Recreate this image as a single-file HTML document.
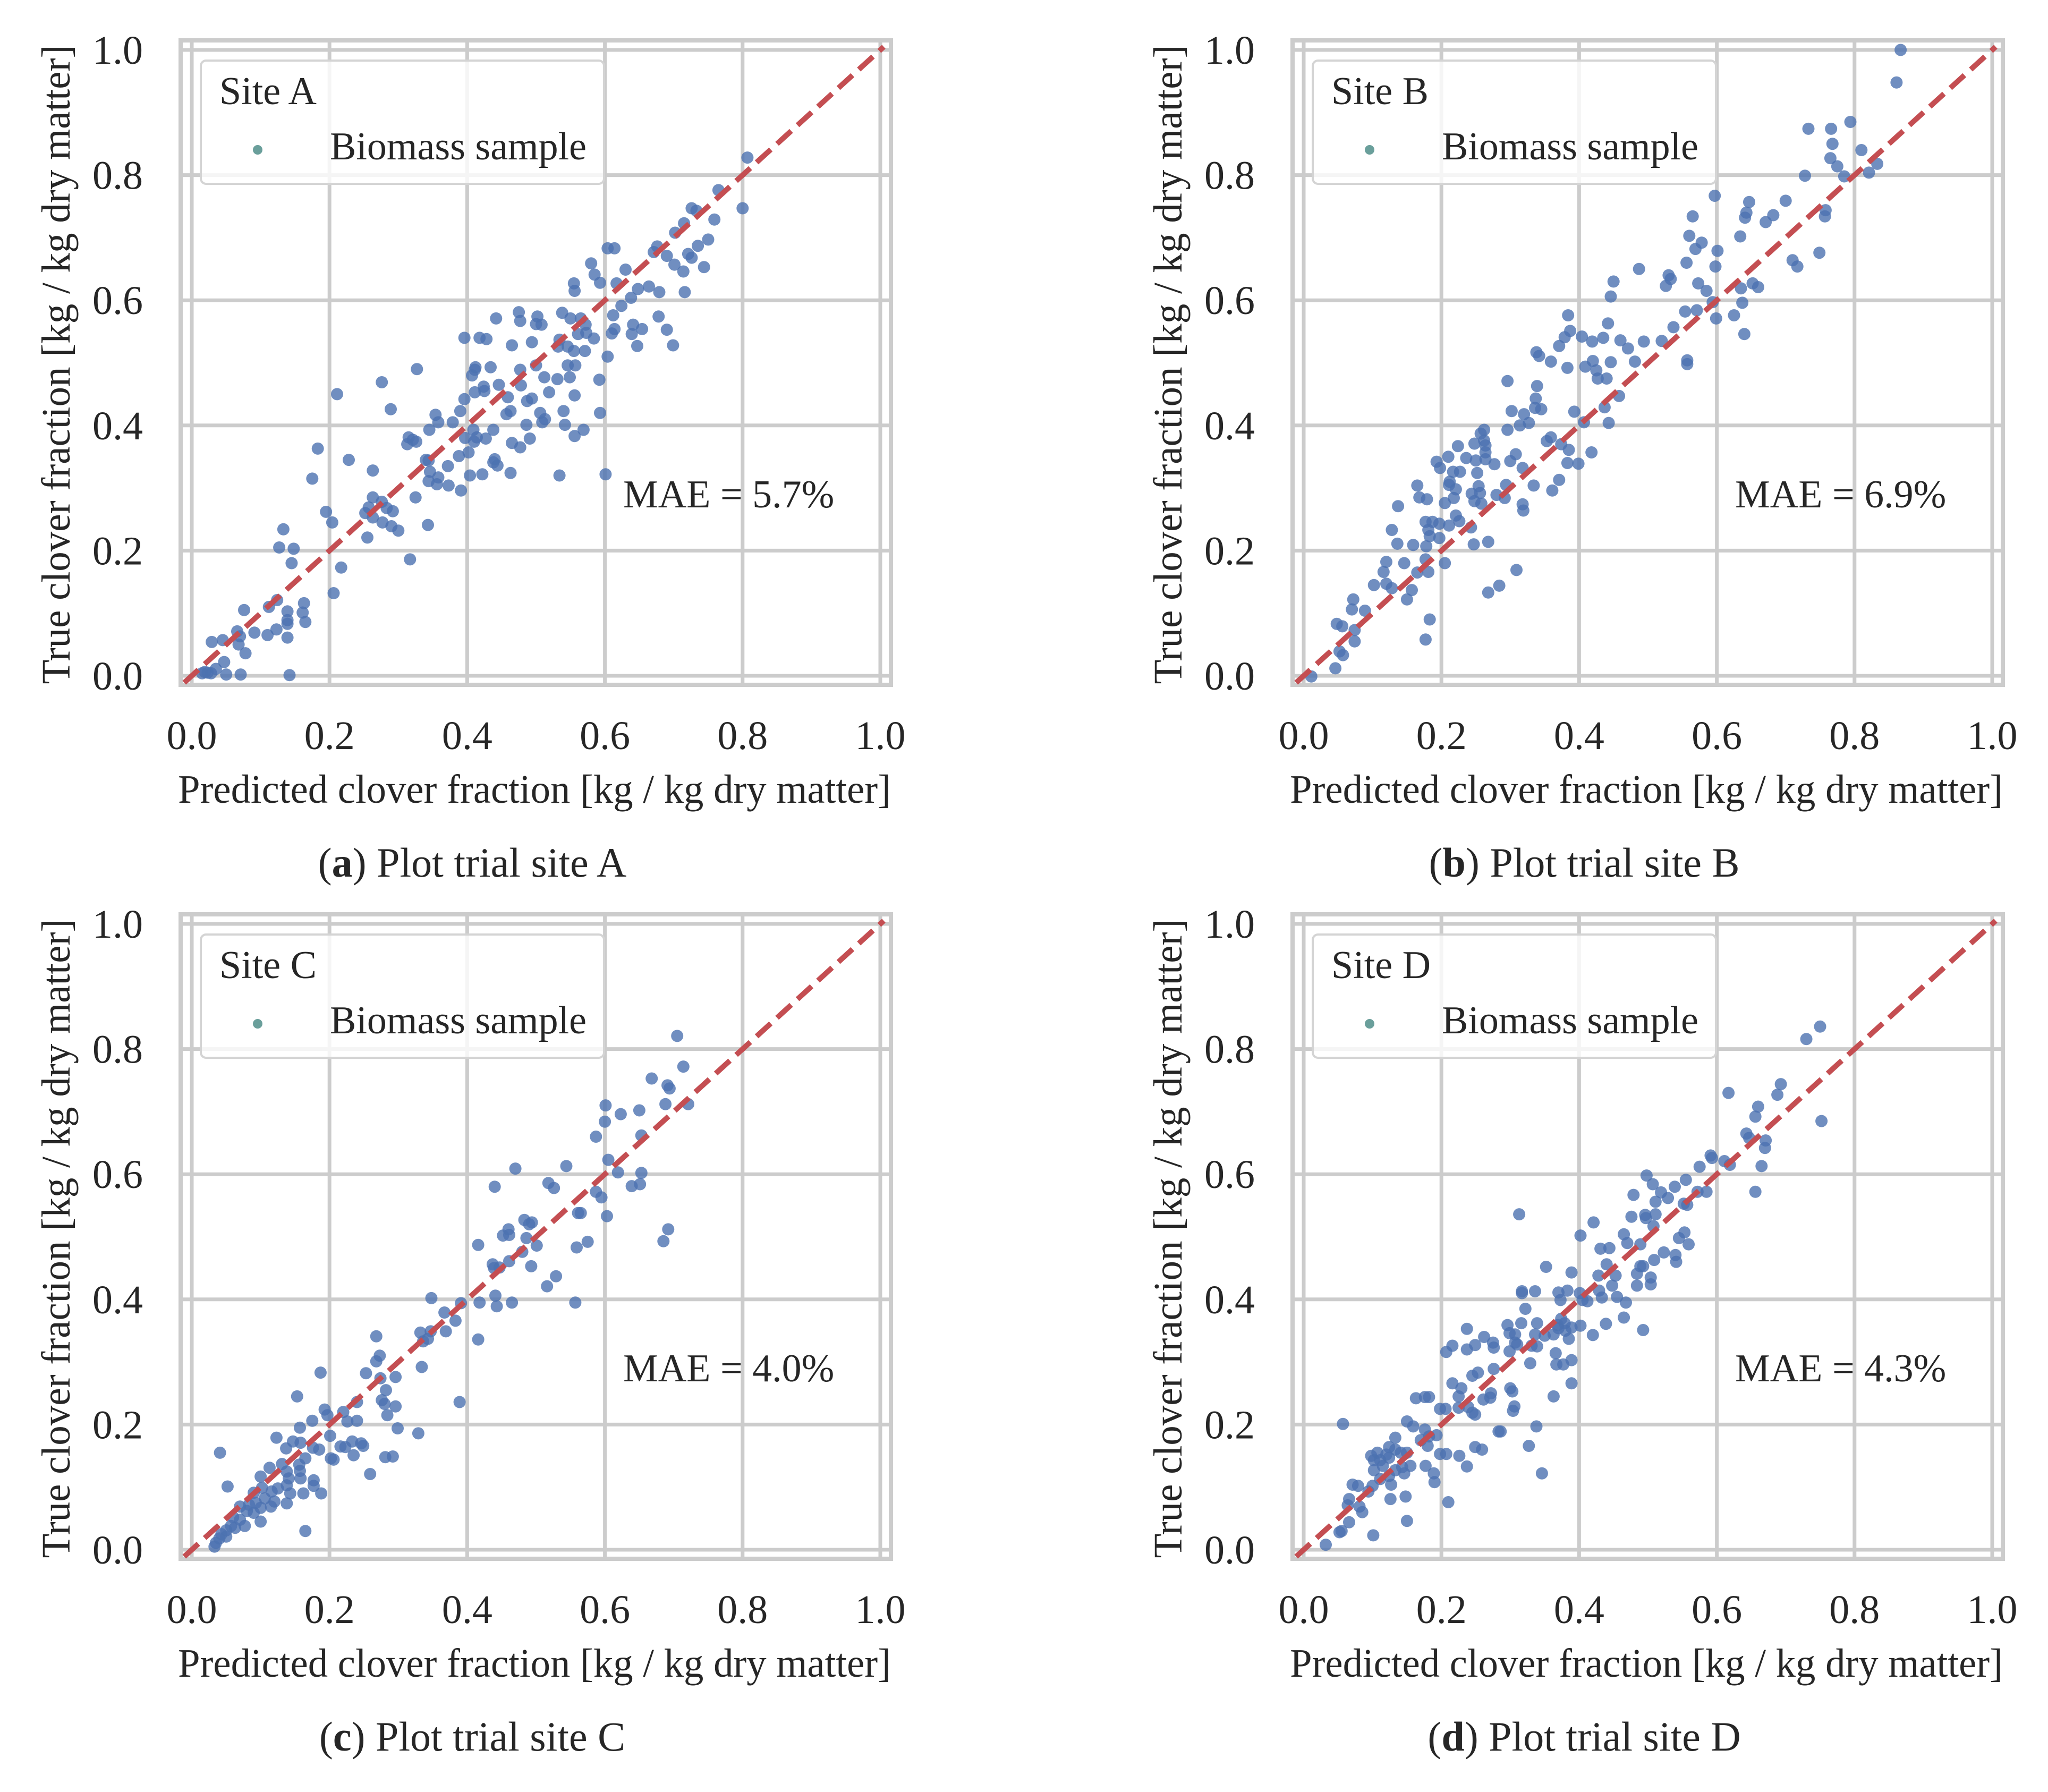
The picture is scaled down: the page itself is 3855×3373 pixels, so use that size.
<!DOCTYPE html>
<html><head><meta charset="utf-8">
<style>
html,body{margin:0;padding:0;background:#fff;}
svg{display:block;}
text{font-family:"Liberation Serif","DejaVu Serif",serif;fill:#262626;}
</style></head>
<body>
<svg id="fig" xmlns="http://www.w3.org/2000/svg" width="3855" height="3373" viewBox="0 0 3855 3373"></svg>
<script>
const tickValues = [0, 0.2, 0.4, 0.6, 0.8, 1.0];
const tickLabels = ["0.0", "0.2", "0.4", "0.6", "0.8", "1.0"];
const siteNames = ["A", "B", "C", "D"];
const maeLabels = ["5.7%", "6.9%", "4.0%", "4.3%"];

const siteAPoints = [[0.807,0.828],[0.800,0.747],[0.765,0.776],[0.726,0.747],[0.733,0.743],[0.715,0.723],[0.759,0.729],[0.702,0.708],[0.750,0.697],[0.735,0.687],[0.744,0.653],[0.721,0.674],[0.726,0.668],[0.714,0.646],[0.716,0.613],[0.701,0.657],[0.690,0.671],[0.676,0.686],[0.671,0.677],[0.664,0.622],[0.679,0.613],[0.690,0.553],[0.699,0.528],[0.678,0.574],[0.604,0.683],[0.614,0.683],[0.580,0.659],[0.630,0.649],[0.648,0.618],[0.638,0.604],[0.641,0.561],[0.654,0.554],[0.647,0.527],[0.639,0.546],[0.617,0.627],[0.624,0.591],[0.612,0.576],[0.614,0.554],[0.610,0.547],[0.585,0.641],[0.593,0.628],[0.555,0.627],[0.556,0.615],[0.538,0.580],[0.550,0.571],[0.561,0.546],[0.565,0.571],[0.573,0.548],[0.584,0.539],[0.572,0.561],[0.546,0.526],[0.555,0.519],[0.571,0.519],[0.557,0.496],[0.534,0.537],[0.532,0.526],[0.502,0.574],[0.475,0.581],[0.477,0.567],[0.494,0.533],[0.508,0.561],[0.500,0.562],[0.465,0.528],[0.442,0.571],[0.396,0.540],[0.418,0.540],[0.428,0.538],[0.604,0.510],[0.592,0.473],[0.546,0.496],[0.531,0.474],[0.549,0.477],[0.512,0.477],[0.519,0.453],[0.556,0.448],[0.540,0.423],[0.500,0.496],[0.477,0.489],[0.412,0.493],[0.411,0.489],[0.434,0.493],[0.407,0.480],[0.446,0.465],[0.478,0.464],[0.424,0.462],[0.411,0.453],[0.425,0.455],[0.459,0.445],[0.487,0.439],[0.494,0.443],[0.506,0.420],[0.509,0.405],[0.486,0.401],[0.491,0.379],[0.513,0.410],[0.542,0.401],[0.569,0.393],[0.556,0.383],[0.593,0.420],[0.601,0.322],[0.534,0.320],[0.477,0.365],[0.465,0.372],[0.463,0.423],[0.457,0.418],[0.438,0.393],[0.427,0.379],[0.409,0.393],[0.410,0.374],[0.402,0.357],[0.414,0.381],[0.438,0.341],[0.440,0.346],[0.444,0.336],[0.463,0.324],[0.422,0.322],[0.404,0.320],[0.396,0.442],[0.390,0.423],[0.379,0.405],[0.397,0.380],[0.388,0.351],[0.391,0.296],[0.372,0.335],[0.373,0.304],[0.354,0.417],[0.358,0.405],[0.345,0.393],[0.344,0.344],[0.346,0.326],[0.358,0.317],[0.356,0.306],[0.344,0.311],[0.340,0.345],[0.315,0.381],[0.321,0.377],[0.326,0.374],[0.313,0.370],[0.327,0.490],[0.276,0.469],[0.289,0.426],[0.325,0.285],[0.317,0.186],[0.343,0.241],[0.263,0.328],[0.263,0.285],[0.257,0.269],[0.276,0.278],[0.283,0.268],[0.292,0.263],[0.252,0.260],[0.263,0.253],[0.277,0.245],[0.290,0.239],[0.300,0.232],[0.255,0.221],[0.228,0.345],[0.211,0.450],[0.183,0.363],[0.175,0.315],[0.195,0.262],[0.204,0.245],[0.217,0.173],[0.206,0.132],[0.133,0.234],[0.127,0.205],[0.148,0.203],[0.145,0.180],[0.124,0.121],[0.112,0.110],[0.139,0.103],[0.139,0.089],[0.139,0.083],[0.139,0.061],[0.161,0.101],[0.163,0.116],[0.165,0.086],[0.123,0.074],[0.110,0.065],[0.076,0.105],[0.066,0.071],[0.070,0.063],[0.091,0.069],[0.068,0.050],[0.078,0.036],[0.045,0.057],[0.029,0.054],[0.047,0.022],[0.035,0.011],[0.023,0.005],[0.015,0.004],[0.028,0.004],[0.050,0.002],[0.071,0.002],[0.142,0.001],[0.019,0.006]];

const siteBPoints = [[0.867,1.0],[0.861,0.948],[0.733,0.874],[0.766,0.874],[0.794,0.885],[0.768,0.850],[0.810,0.840],[0.765,0.827],[0.775,0.814],[0.833,0.818],[0.821,0.804],[0.728,0.799],[0.785,0.798],[0.597,0.767],[0.647,0.757],[0.700,0.759],[0.643,0.740],[0.641,0.732],[0.682,0.736],[0.671,0.725],[0.758,0.744],[0.757,0.734],[0.565,0.734],[0.560,0.703],[0.578,0.692],[0.569,0.682],[0.634,0.702],[0.601,0.679],[0.749,0.676],[0.710,0.664],[0.717,0.654],[0.556,0.660],[0.598,0.654],[0.487,0.650],[0.530,0.640],[0.533,0.634],[0.526,0.623],[0.450,0.630],[0.573,0.627],[0.585,0.615],[0.635,0.619],[0.652,0.627],[0.660,0.621],[0.446,0.606],[0.637,0.596],[0.594,0.597],[0.554,0.582],[0.571,0.584],[0.599,0.571],[0.625,0.576],[0.640,0.546],[0.384,0.576],[0.442,0.563],[0.387,0.551],[0.379,0.541],[0.404,0.542],[0.371,0.527],[0.419,0.534],[0.435,0.540],[0.460,0.536],[0.471,0.523],[0.494,0.534],[0.520,0.535],[0.537,0.557],[0.338,0.517],[0.342,0.511],[0.359,0.502],[0.383,0.492],[0.409,0.494],[0.420,0.503],[0.446,0.501],[0.481,0.502],[0.425,0.488],[0.427,0.475],[0.440,0.475],[0.557,0.504],[0.557,0.498],[0.296,0.471],[0.339,0.463],[0.337,0.443],[0.336,0.428],[0.345,0.426],[0.458,0.447],[0.302,0.423],[0.320,0.418],[0.393,0.422],[0.437,0.429],[0.443,0.404],[0.407,0.405],[0.314,0.400],[0.327,0.404],[0.296,0.393],[0.262,0.393],[0.257,0.387],[0.262,0.376],[0.248,0.371],[0.264,0.368],[0.224,0.367],[0.359,0.381],[0.353,0.375],[0.374,0.370],[0.264,0.357],[0.210,0.350],[0.236,0.348],[0.264,0.346],[0.250,0.344],[0.277,0.338],[0.308,0.354],[0.300,0.343],[0.385,0.361],[0.418,0.357],[0.383,0.340],[0.399,0.339],[0.193,0.342],[0.198,0.332],[0.217,0.326],[0.227,0.326],[0.252,0.324],[0.318,0.332],[0.212,0.310],[0.211,0.305],[0.221,0.298],[0.254,0.303],[0.165,0.304],[0.334,0.304],[0.371,0.313],[0.294,0.305],[0.244,0.291],[0.256,0.292],[0.248,0.279],[0.258,0.275],[0.280,0.289],[0.292,0.284],[0.318,0.274],[0.319,0.264],[0.361,0.296],[0.168,0.285],[0.179,0.282],[0.218,0.284],[0.205,0.276],[0.137,0.271],[0.221,0.256],[0.226,0.247],[0.177,0.246],[0.187,0.246],[0.197,0.243],[0.211,0.240],[0.181,0.233],[0.243,0.237],[0.128,0.233],[0.183,0.223],[0.197,0.220],[0.136,0.211],[0.159,0.209],[0.178,0.207],[0.247,0.210],[0.268,0.214],[0.120,0.182],[0.146,0.180],[0.177,0.186],[0.205,0.180],[0.116,0.166],[0.165,0.165],[0.181,0.166],[0.102,0.145],[0.120,0.147],[0.128,0.140],[0.157,0.137],[0.150,0.122],[0.309,0.169],[0.284,0.144],[0.268,0.133],[0.183,0.090],[0.177,0.058],[0.072,0.122],[0.070,0.106],[0.089,0.104],[0.048,0.083],[0.056,0.079],[0.074,0.073],[0.074,0.055],[0.052,0.039],[0.057,0.033],[0.046,0.012],[0.011,-0.001]];

const siteCPoints = [[0.705,0.821],[0.714,0.772],[0.668,0.753],[0.691,0.742],[0.694,0.737],[0.688,0.712],[0.721,0.712],[0.601,0.710],[0.623,0.696],[0.650,0.702],[0.600,0.684],[0.587,0.660],[0.653,0.662],[0.605,0.623],[0.544,0.613],[0.470,0.609],[0.619,0.603],[0.653,0.602],[0.440,0.580],[0.518,0.586],[0.526,0.578],[0.639,0.581],[0.651,0.584],[0.587,0.572],[0.595,0.563],[0.561,0.538],[0.565,0.538],[0.603,0.533],[0.483,0.527],[0.490,0.520],[0.494,0.523],[0.460,0.512],[0.452,0.502],[0.461,0.503],[0.486,0.498],[0.692,0.512],[0.685,0.493],[0.501,0.486],[0.559,0.483],[0.575,0.492],[0.416,0.487],[0.480,0.476],[0.461,0.461],[0.437,0.456],[0.439,0.450],[0.447,0.451],[0.493,0.453],[0.529,0.437],[0.516,0.421],[0.348,0.402],[0.391,0.394],[0.418,0.395],[0.441,0.406],[0.443,0.389],[0.465,0.395],[0.557,0.395],[0.367,0.379],[0.383,0.366],[0.369,0.349],[0.332,0.347],[0.347,0.349],[0.336,0.333],[0.343,0.337],[0.416,0.336],[0.268,0.341],[0.273,0.310],[0.268,0.301],[0.334,0.292],[0.253,0.282],[0.274,0.274],[0.296,0.276],[0.282,0.255],[0.389,0.236],[0.187,0.283],[0.153,0.245],[0.276,0.239],[0.280,0.233],[0.296,0.229],[0.240,0.236],[0.220,0.220],[0.193,0.224],[0.197,0.215],[0.284,0.215],[0.175,0.206],[0.226,0.205],[0.240,0.206],[0.299,0.194],[0.329,0.186],[0.157,0.195],[0.201,0.182],[0.123,0.179],[0.147,0.173],[0.158,0.171],[0.233,0.173],[0.246,0.170],[0.249,0.166],[0.137,0.162],[0.176,0.163],[0.185,0.160],[0.216,0.165],[0.223,0.164],[0.235,0.151],[0.281,0.148],[0.292,0.149],[0.202,0.146],[0.206,0.144],[0.165,0.146],[0.041,0.155],[0.131,0.137],[0.156,0.136],[0.113,0.131],[0.138,0.125],[0.157,0.126],[0.100,0.117],[0.141,0.114],[0.158,0.114],[0.177,0.111],[0.259,0.121],[0.177,0.102],[0.138,0.103],[0.125,0.098],[0.116,0.093],[0.102,0.099],[0.052,0.101],[0.090,0.091],[0.162,0.090],[0.188,0.090],[0.143,0.090],[0.120,0.077],[0.138,0.074],[0.106,0.082],[0.093,0.075],[0.083,0.072],[0.070,0.069],[0.100,0.067],[0.115,0.069],[0.080,0.062],[0.090,0.059],[0.100,0.045],[0.060,0.052],[0.070,0.048],[0.057,0.038],[0.050,0.031],[0.043,0.025],[0.063,0.035],[0.165,0.030],[0.040,0.018],[0.035,0.011],[0.033,0.005],[0.077,0.038],[0.050,0.021]];

const siteDPoints = [[0.750,0.836],[0.730,0.816],[0.752,0.685],[0.617,0.730],[0.693,0.744],[0.688,0.727],[0.660,0.708],[0.656,0.692],[0.643,0.665],[0.647,0.658],[0.671,0.654],[0.670,0.642],[0.665,0.613],[0.656,0.572],[0.611,0.621],[0.619,0.615],[0.591,0.630],[0.593,0.626],[0.575,0.612],[0.585,0.572],[0.572,0.572],[0.555,0.591],[0.539,0.580],[0.529,0.562],[0.519,0.571],[0.507,0.584],[0.498,0.598],[0.552,0.553],[0.557,0.551],[0.511,0.556],[0.511,0.536],[0.479,0.567],[0.496,0.535],[0.497,0.530],[0.508,0.517],[0.465,0.504],[0.476,0.532],[0.553,0.507],[0.545,0.498],[0.559,0.488],[0.523,0.475],[0.509,0.463],[0.540,0.471],[0.541,0.460],[0.444,0.482],[0.431,0.481],[0.470,0.490],[0.489,0.488],[0.489,0.453],[0.493,0.453],[0.440,0.456],[0.453,0.438],[0.448,0.422],[0.484,0.441],[0.484,0.422],[0.504,0.435],[0.504,0.424],[0.402,0.502],[0.421,0.523],[0.313,0.536],[0.352,0.452],[0.389,0.443],[0.428,0.438],[0.429,0.414],[0.433,0.403],[0.401,0.410],[0.405,0.399],[0.412,0.397],[0.370,0.411],[0.383,0.414],[0.373,0.399],[0.336,0.413],[0.317,0.413],[0.317,0.410],[0.455,0.404],[0.468,0.395],[0.465,0.371],[0.439,0.361],[0.493,0.351],[0.420,0.343],[0.402,0.358],[0.389,0.355],[0.380,0.350],[0.369,0.359],[0.370,0.354],[0.379,0.362],[0.385,0.337],[0.389,0.303],[0.389,0.266],[0.374,0.369],[0.350,0.342],[0.363,0.344],[0.366,0.314],[0.367,0.296],[0.377,0.296],[0.363,0.245],[0.339,0.362],[0.336,0.344],[0.331,0.326],[0.322,0.385],[0.316,0.362],[0.307,0.344],[0.296,0.359],[0.299,0.346],[0.307,0.331],[0.310,0.328],[0.339,0.325],[0.329,0.298],[0.299,0.317],[0.275,0.331],[0.276,0.323],[0.262,0.340],[0.249,0.327],[0.237,0.320],[0.237,0.353],[0.216,0.326],[0.207,0.316],[0.253,0.283],[0.276,0.289],[0.300,0.258],[0.303,0.253],[0.306,0.229],[0.304,0.222],[0.272,0.250],[0.271,0.243],[0.261,0.240],[0.245,0.278],[0.229,0.258],[0.239,0.228],[0.245,0.219],[0.249,0.216],[0.225,0.245],[0.225,0.227],[0.216,0.266],[0.198,0.225],[0.206,0.225],[0.176,0.244],[0.182,0.244],[0.163,0.242],[0.150,0.205],[0.159,0.197],[0.176,0.192],[0.182,0.181],[0.193,0.183],[0.170,0.175],[0.180,0.166],[0.198,0.153],[0.207,0.153],[0.226,0.150],[0.249,0.164],[0.259,0.160],[0.283,0.189],[0.286,0.189],[0.237,0.133],[0.210,0.076],[0.189,0.122],[0.190,0.108],[0.177,0.134],[0.327,0.166],[0.338,0.197],[0.346,0.122],[0.133,0.179],[0.124,0.164],[0.124,0.147],[0.133,0.160],[0.141,0.155],[0.150,0.155],[0.120,0.152],[0.107,0.155],[0.098,0.150],[0.102,0.143],[0.111,0.143],[0.115,0.134],[0.133,0.127],[0.143,0.132],[0.146,0.122],[0.155,0.134],[0.124,0.118],[0.102,0.127],[0.111,0.113],[0.127,0.104],[0.126,0.081],[0.148,0.085],[0.150,0.046],[0.100,0.102],[0.094,0.093],[0.071,0.104],[0.079,0.102],[0.066,0.081],[0.064,0.071],[0.081,0.069],[0.085,0.060],[0.066,0.044],[0.055,0.030],[0.052,0.028],[0.101,0.023],[0.032,0.008],[0.057,0.201]];

const allSitePoints = [siteAPoints, siteBPoints, siteCPoints, siteDPoints];

const NS = "http://www.w3.org/2000/svg";
const fig = document.getElementById("fig");
const PX_X = 1296, PX_Y = 1178;
const origins = [[361,1272],[2454,1272],[361,2917],[2454,2917]];

function mk(tag, attrs, parent){
  const e = document.createElementNS(NS, tag);
  for (const k in attrs) e.setAttribute(k, attrs[k]);
  parent.appendChild(e);
  return e;
}

for (let p = 0; p < 4; p++) {
  const x0 = origins[p][0], y0 = origins[p][1];
  const sx = v => x0 + v * PX_X;
  const sy = v => y0 - v * PX_Y;
  const letter = siteNames[p].toLowerCase();
  const g = mk("g", {}, fig);
  
  

  const fl = x0 - 21, ft = y0 - PX_Y - 18, fr = x0 + PX_X + 20, fb = y0 + 17;

  tickValues.forEach((v, i) => {
    const gx = mk("line", {x1: sx(v), x2: sx(v), y1: ft, y2: fb, stroke: "#cccccc", "stroke-width": 7}, g);
    
    
    const gy = mk("line", {x1: fl, x2: fr, y1: sy(v), y2: sy(v), stroke: "#cccccc", "stroke-width": 7}, g);
    
    
  });
  const frame = mk("rect", {x: fl, y: ft, width: fr - fl, height: fb - ft, fill: "none", stroke: "#cccccc", "stroke-width": 8}, g);
  
  

  const pts = mk("g", {}, g);
  
  
  allSitePoints[p].forEach(d => {
    const c = mk("circle", {cx: sx(d[0]).toFixed(1), cy: sy(d[1]).toFixed(1), r: 11.5, fill: "#4c72b0", "fill-opacity": 0.8}, pts);
    
    
  });

  const idl = mk("line", {x1: sx(-0.011), y1: sy(-0.011), x2: sx(1.005), y2: sy(1.005), stroke: "#c44e52", "stroke-width": 10, "stroke-dasharray": "36 16"}, g);
  
  

  const lg = mk("g", {}, g);
  
  
  mk("rect", {x: fl + 38, y: ft + 38, width: 759, height: 232, rx: 10, fill: "#ffffff", "fill-opacity": 0.8, stroke: "#d4d4d4", "stroke-width": 4}, lg);
  const lt = mk("text", {x: fl + 73, y: ft + 120, "font-size": 74}, lg);
  lt.textContent = "Site " + siteNames[p];
  
  
  const lm = mk("circle", {cx: fl + 145, cy: ft + 206, r: 9, fill: "#6a9f9b"}, lg);
  
  
  const ll = mk("text", {x: fl + 281, y: ft + 224, "font-size": 74}, lg);
  ll.textContent = "Biomass sample";
  
  

  const mae = mk("text", {x: x0 + 812, y: y0 - 317, "font-size": 74}, g);
  mae.textContent = "MAE = " + maeLabels[p];
  
  

  tickValues.forEach((v, i) => {
    const tx = mk("text", {x: sx(v), y: y0 + 138, "font-size": 76, "text-anchor": "middle"}, g);
    tx.textContent = tickLabels[i];
    
    
    const ty = mk("text", {x: x0 - 92, y: sy(v) + 26, "font-size": 76, "text-anchor": "end"}, g);
    ty.textContent = tickLabels[i];
    
    
  });

  const xt = mk("text", {x: x0 + 645, y: y0 + 239, "font-size": 76, "text-anchor": "middle", textLength: 1342, lengthAdjust: "spacingAndGlyphs"}, g);
  xt.textContent = "Predicted clover fraction [kg / kg dry matter]";
  
  
  const yt = mk("text", {x: 0, y: 0, "font-size": 76, "text-anchor": "middle", textLength: 1203, lengthAdjust: "spacingAndGlyphs", transform: "translate(" + (x0 - 230) + "," + (y0 - 586) + ") rotate(-90)"}, g);
  yt.textContent = "True clover fraction [kg / kg dry matter]";
  
  

  const cap = mk("text", {x: x0 + 528, y: y0 + 378, "font-size": 78, "text-anchor": "middle"}, g);
  
  
  const t1 = mk("tspan", {}, cap); t1.textContent = "(";
  const t2 = mk("tspan", {"font-weight": "bold"}, cap); t2.textContent = letter;
  const t3 = mk("tspan", {}, cap); t3.textContent = ") Plot trial site " + siteNames[p];
}
</script>
</body></html>
